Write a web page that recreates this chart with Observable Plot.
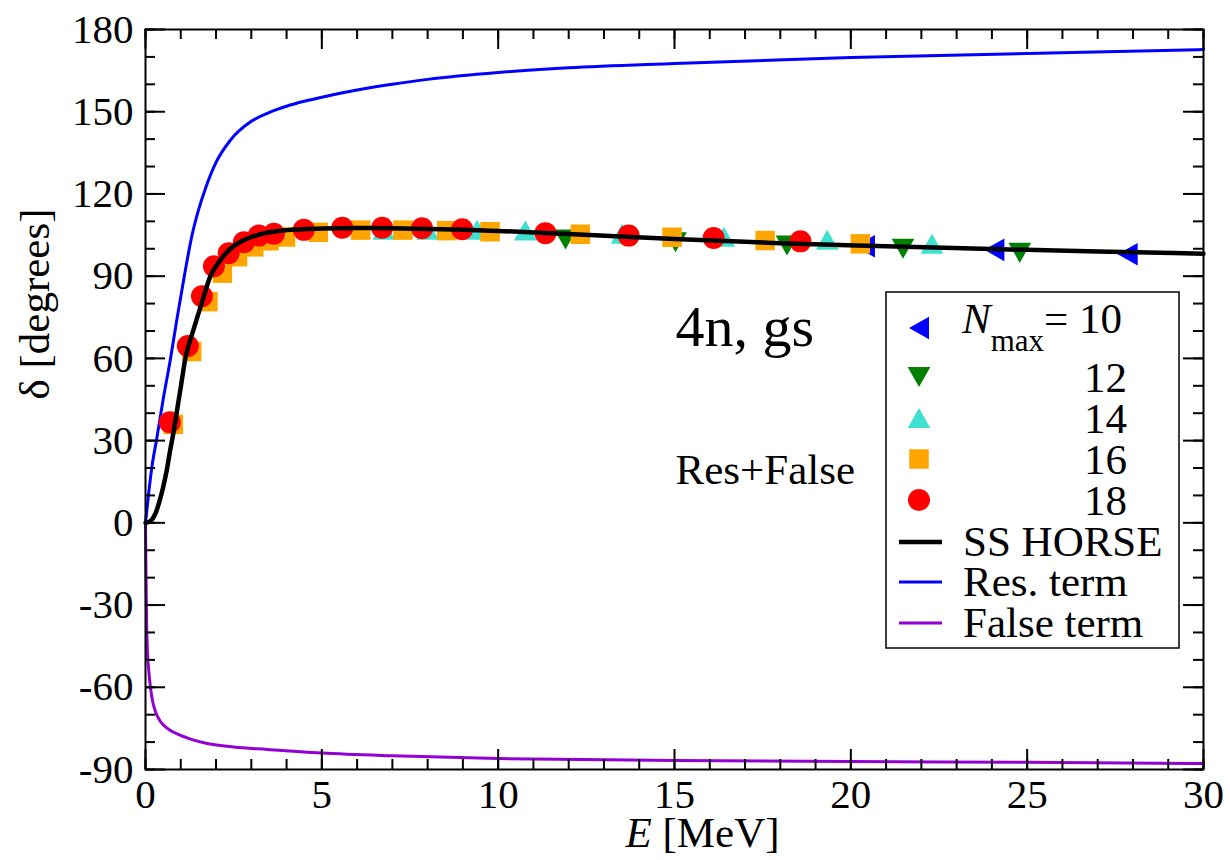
<!DOCTYPE html>
<html><head><meta charset="utf-8">
<script src="https://cdn.jsdelivr.net/npm/d3@7"></script>
<script src="https://cdn.jsdelivr.net/npm/@observablehq/plot@0.6"></script>
<style>
body{margin:0;background:#fff}
#chart{position:relative;width:1230px;height:860px}
</style>
</head><body><div id="chart"></div>
<script>
// ---- curves ----
const horseE = [0, 0.1, 0.2, 0.3, 0.4, 0.5, 0.6, 0.7, 0.8, 0.9, 1.0, 1.13, 1.35, 1.59, 1.84, 2.1, 2.41, 2.8, 3.17, 3.6, 4, 5, 6, 7, 8, 9, 10, 12, 15, 18, 21, 24, 27, 30];
const horseD = [0, 0.3, 1.5, 4, 8, 13, 19, 26.5, 33.5, 41.5, 49.5, 60, 70, 80, 90, 95.5, 100, 103.2, 105, 106.2, 106.8, 107.4, 107.6, 107.5, 107.2, 106.9, 106.5, 105.4, 103.6, 102, 100.9, 99.9, 99, 98.2];
const resE = [0, 0.1, 0.2, 0.31, 0.5, 0.71, 0.9, 1.1, 1.32, 1.5, 1.7, 2.0, 2.4, 3.0, 3.5, 4, 4.5, 5, 6, 7, 8, 10, 12, 15, 20, 25, 30];
const resD = [0, 12, 22, 30, 45, 60, 75, 90, 105, 114, 122, 131.5, 139.5, 146.5, 149.7, 152, 153.8, 155.3, 157.9, 160, 161.8, 164.3, 166, 167.6, 169.8, 171.2, 172.7];
const falseE = [0, 0.01, 0.03, 0.06, 0.1, 0.15, 0.2, 0.28, 0.4, 0.6, 0.9, 1.3, 1.75, 2.5, 3.45, 5, 7, 10, 15, 20, 25, 30];
const falseD = [0, -15, -35, -48, -55, -61, -65, -68.8, -72, -74.8, -77, -79, -80.5, -81.8, -82.7, -84, -85, -86, -86.7, -87.1, -87.4, -87.8];

// ---- eigenvalue points, one pair of arrays per Nmax ----
const n10E = [20.4, 24.07, 27.85];
const n10D = [100.9, 99.6, 98.0];
const n12E = [11.91, 15.03, 18.19, 21.48, 24.79];
const n12D = [103.4, 102.4, 101.2, 100.0, 98.5];
const n14E = [6.76, 8.0, 9.4, 10.77, 13.51, 16.4, 19.33, 22.3];
const n14D = [106.9, 106.9, 106.9, 106.7, 105.5, 104.4, 103.3, 101.8];
const n16E = [0.79, 1.31, 1.77, 2.18, 2.61, 3.07, 3.5, 3.97, 4.9, 6.1, 7.3, 8.54, 9.77, 12.33, 14.93, 17.57, 20.27];
const n16D = [35.9, 62.5, 80.7, 91.1, 97.1, 100.7, 102.9, 104.3, 106.0, 106.8, 106.8, 106.6, 106.2, 105.3, 104.2, 103.0, 101.8];
const n18E = [0.69, 1.2, 1.6, 1.94, 2.36, 2.79, 3.21, 3.64, 4.49, 5.58, 6.71, 7.84, 8.98, 11.34, 13.7, 16.11, 18.57];
const n18D = [36.7, 64.5, 82.7, 93.6, 98.4, 102.4, 104.8, 105.5, 106.9, 107.7, 107.7, 107.5, 107.1, 105.7, 104.8, 103.9, 102.7];

// ---- ticks & labels ----
const xMajor = [0, 5, 10, 15, 20, 25, 30];
const xMinor = d3.range(0, 31, 1);
const yMajor = [-90, -60, -30, 0, 30, 60, 90, 120, 150, 180];
const yMinor = d3.range(-90, 181, 10);
const xTitle = "E [MeV]";
const yTitle = "δ [degrees]";
const legendNums = ["10", "12", "14", "16", "18"];
const legendLines = ["SS HORSE", "Res. term", "False term"];

const rows = (E, D) => E.map((e, i) => ({E: e, d: D[i]}));

// custom marker shapes (relative to r)
const poly = pts => ({draw(ctx, size) {
  const r = Math.sqrt(size / Math.PI);
  ctx.moveTo(pts[0][0] * r, pts[0][1] * r);
  for (const p of pts.slice(1)) ctx.lineTo(p[0] * r, p[1] * r);
  ctx.closePath();
}});
const triUp = poly([[0, -0.91], [1.03, 0.91], [-1.03, 0.91]]);
const triDown = poly([[0, 0.91], [1.03, -0.91], [-1.03, -0.91]]);
const triLeft = poly([[-0.91, 0], [0.91, -1.03], [0.91, 1.03]]);
const sq = poly([[-0.886, -0.886], [0.886, -0.886], [0.886, 0.886], [-0.886, 0.886]]);

const series = [
  {E: n10E, D: n10D, sym: triLeft, color: "#0000ff"},
  {E: n12E, D: n12D, sym: triDown, color: "#008000"},
  {E: n14E, D: n14D, sym: triUp, color: "#40e0d0"},
  {E: n16E, D: n16D, sym: sq, color: "#ffa500"},
  {E: n18E, D: n18D, sym: "circle", color: "#ff0000"}
];
const lineStyles = [
  {color: "#000000", w: 4.5},
  {color: "#0000ff", w: 3},
  {color: "#9400d3", w: 3}
];

const W = 1230, H = 860, ML = 145, MR = 27, MT = 29, MB = 91;
const PW = W - ML - MR, PH = H - MT - MB;
const font = "'Liberation Serif','Times New Roman',Times,serif";

const chart = Plot.plot({
  width: W, height: H,
  marginLeft: ML, marginRight: MR, marginTop: MT, marginBottom: MB,
  x: {domain: [0, 30]},
  y: {domain: [-90, 180]},
  style: {fontFamily: font, fontSize: "41px", color: "#000", background: "#fff", overflow: "visible"},
  marks: [
    Plot.line(rows(resE, resD), {x: "E", y: "d", stroke: "#0000ff", strokeWidth: 3, curve: "monotone-x"}),
    Plot.line(rows(falseE, falseD), {x: "E", y: "d", stroke: "#9400d3", strokeWidth: 3, curve: "monotone-x"}),
    ...series.map(s => Plot.dot(rows(s.E, s.D), {x: "E", y: "d", symbol: s.sym, r: 11, fill: s.color, stroke: "none"})),
    Plot.line(rows(horseE, horseD), {x: "E", y: "d", stroke: "#000", strokeWidth: 4.5, curve: "monotone-x"}),
    // inward ticks on all four sides
    Plot.tickY(yMinor, {y: d => d, insetRight: PW - 10, strokeWidth: 2}),
    Plot.tickY(yMajor, {y: d => d, insetRight: PW - 20, strokeWidth: 2}),
    Plot.tickY(yMinor, {y: d => d, insetLeft: PW - 10, strokeWidth: 2}),
    Plot.tickY(yMajor, {y: d => d, insetLeft: PW - 20, strokeWidth: 2}),
    Plot.tickX(xMinor, {x: d => d, insetTop: PH - 10, strokeWidth: 2}),
    Plot.tickX(xMajor, {x: d => d, insetTop: PH - 20, strokeWidth: 2}),
    Plot.tickX(xMinor, {x: d => d, insetBottom: PH - 10, strokeWidth: 2}),
    Plot.tickX(xMajor, {x: d => d, insetBottom: PH - 20, strokeWidth: 2}),
    Plot.frame({strokeWidth: 2}),
    Plot.axisX({ticks: xMajor, tickSize: 0, tickPadding: 9, tickFormat: d => String(d), label: null}),
    Plot.axisY({ticks: yMajor, tickSize: 0, tickPadding: 12, tickFormat: d => String(d), label: null}),
    Plot.text([yTitle], {text: d => d, frameAnchor: "left", dx: -110, rotate: -90, fontSize: 43}),
    Plot.text([xTitle], {text: d => d, frameAnchor: "bottom", dx: 28, dy: 77, fontSize: 43}),
    Plot.text([{E: 15.03, d: 64.4, t: "4n, gs"}], {x: "E", y: "d", text: "t", textAnchor: "start", lineAnchor: "bottom", fontSize: 58}),
    Plot.text([{E: 15.03, d: 14.0, t: "Res+False"}], {x: "E", y: "d", text: "t", textAnchor: "start", lineAnchor: "bottom", fontSize: 43})
  ]
});
document.getElementById("chart").appendChild(chart);

const svg = d3.select(chart);
// italic E in the x title
svg.selectAll("text").filter(function() { return this.textContent === xTitle; }).each(function() {
  const t = d3.select(this);
  t.text(null);
  t.append("tspan").attr("font-style", "italic").text("E");
  t.append("tspan").text(" [MeV]");
});

// legend
const lg = svg.append("g").attr("font-family", font).attr("font-size", 43)
  .attr("fill", "#000").attr("text-anchor", "start");
lg.append("rect").attr("x", 886).attr("y", 292).attr("width", 293).attr("height", 356)
  .attr("fill", "#fff").attr("stroke", "#000").attr("stroke-width", 1.5);
const symY = [328, 377, 418, 459, 500];
series.forEach((s, i) => {
  const type = s.sym === "circle" ? d3.symbolCircle : s.sym;
  lg.append("path").attr("d", d3.symbol().type(type).size(Math.PI * 121)())
    .attr("transform", `translate(919,${symY[i]})`).attr("fill", s.color);
  if (i === 0) {
    const t = lg.append("text").attr("x", 962).attr("y", 333).attr("text-anchor", "start");
    t.append("tspan").attr("font-style", "italic").text("N");
    t.append("tspan").attr("font-size", 31).attr("dy", 18).text("max");
    t.append("tspan").attr("dy", -18).text("= " + legendNums[i]);
  } else {
    lg.append("text").attr("x", 1127).attr("y", symY[i] + 15).attr("text-anchor", "end").text(legendNums[i]);
  }
});
const lineY = [542, 582, 623];
legendLines.forEach((name, i) => {
  lg.append("line").attr("x1", 899).attr("x2", 942).attr("y1", lineY[i]).attr("y2", lineY[i])
    .attr("stroke", lineStyles[i].color).attr("stroke-width", lineStyles[i].w);
  lg.append("text").attr("x", 963).attr("y", lineY[i] + 14).attr("text-anchor", "start").text(name);
});
</script></body></html>
